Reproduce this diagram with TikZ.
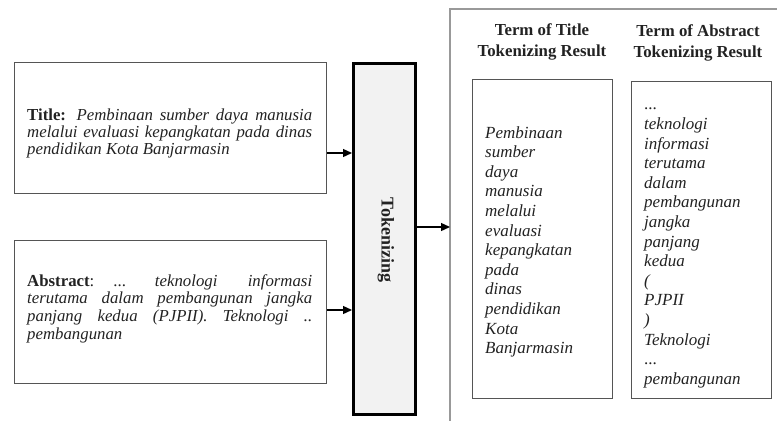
\documentclass[tikz,border=0pt]{standalone}
\usepackage{fontspec}
\setmainfont{Liberation Serif}
\usetikzlibrary{arrows.meta}
\definecolor{txt}{HTML}{222222}
\definecolor{boxline}{HTML}{555555}
\definecolor{panelline}{HTML}{999999}
\definecolor{tokfill}{HTML}{F2F2F2}
\tikzset{
  inbox/.style={draw=boxline, line width=1pt},
  resbox/.style={draw=boxline, line width=1pt},
  panel/.style={draw=panelline, line width=1.5pt},
  tokbox/.style={draw=black, fill=tokfill, line width=3pt},
  arr/.style={-{Triangle[length=9pt,width=8pt]}, line width=1.3pt, black},
  lefttext/.style={anchor=north west, inner sep=0pt, align=left, text=txt,
    font={\fontsize{16.8}{16.8}\selectfont}},
  abstext/.style={anchor=north west, inner sep=0pt, align=left, text=txt,
    font={\fontsize{16.8}{17.8}\selectfont}},
  restext/.style={anchor=north west, inner sep=0pt, align=left, text=txt,
    font={\fontsize{17}{19.6}\selectfont\itshape}},
  headtext/.style={inner sep=0pt, align=center, text=txt,
    font={\fontsize{16.8}{21}\selectfont\bfseries}},
}
\begin{document}
\begin{tikzpicture}[x=1pt,y=-1pt]
\useasboundingbox (0,0) rectangle (777,421);
% outer panel (open right and bottom)
\coordinate (pTR) at (777,9);
\coordinate (pTL) at (450,9);
\coordinate (pBL) at (450,421);
\draw[panel] (pTR) -- (pTL) -- (pBL);
% input boxes
\node[inbox, minimum width=312pt, minimum height=131pt, anchor=north west] (title) at (14,62) {};
\node[inbox, minimum width=312pt, minimum height=143pt, anchor=north west] (abs) at (14,240) {};
\node[lefttext] (titletext) at (27,109) {%
\makebox[285pt][s]{\textbf{Title:} \textit{Pembinaan sumber daya manusia}}\\
\makebox[285pt][s]{\textit{melalui evaluasi kepangkatan pada dinas}}\\
\textit{pendidikan Kota Banjarmasin}};
\node[abstext] (abstxt) at (27,274) {%
\makebox[285pt][l]{\textbf{Abstract}:\hspace{19pt}...\hspace{29pt}\textit{teknologi}\hfill\textit{informasi}}\\
\makebox[285pt][s]{\textit{terutama dalam pembangunan jangka}}\\
\makebox[285pt][s]{\textit{panjang kedua (PJPII). Teknologi ..}}\\
\textit{pembangunan}};
% tokenizing
\node[tokbox, minimum width=62pt, minimum height=351pt, anchor=north west] (tok) at (352,62) {};
\node[rotate=-90, font={\fontsize{18}{18}\selectfont\bfseries}, text=txt, inner sep=0pt] (toklabel) at ([xshift=1.5pt,yshift=-1pt]tok.center) {Tokenizing};
% arrows
\coordinate (tokin1) at (352,153);
\coordinate (tokin2) at (352,310);
\coordinate (panelin) at (450,227);
\draw[arr] (title.east |- tokin1) -- (tokin1);
\draw[arr] (abs.east |- tokin2) -- (tokin2);
\draw[arr] (tok.east |- panelin) -- (panelin);
% headers
\node[headtext] (h1) at (542,42) {Term of Title\\Tokenizing Result};
\node[headtext] (h2) at (698,43) {Term of Abstract\\Tokenizing Result};
% result boxes
\node[resbox, minimum width=140pt, minimum height=319pt, anchor=north west] (r1) at (472,79) {};
\node[resbox, minimum width=140pt, minimum height=317pt, anchor=north west] (r2) at (631,81) {};
\node[restext] (r1t) at (485,126) {Pembinaan\\sumber\\daya\\manusia\\melalui\\evaluasi\\kepangkatan\\pada\\dinas\\pendidikan\\Kota\\Banjarmasin};
\node[restext] (r2t) at (644,108) {\upshape ...\\teknologi\\informasi\\terutama\\dalam\\pembangunan\\jangka\\panjang\\kedua\\(\\PJPII\\)\\Teknologi\\\upshape ...\\pembangunan};
\end{tikzpicture}
\end{document}
